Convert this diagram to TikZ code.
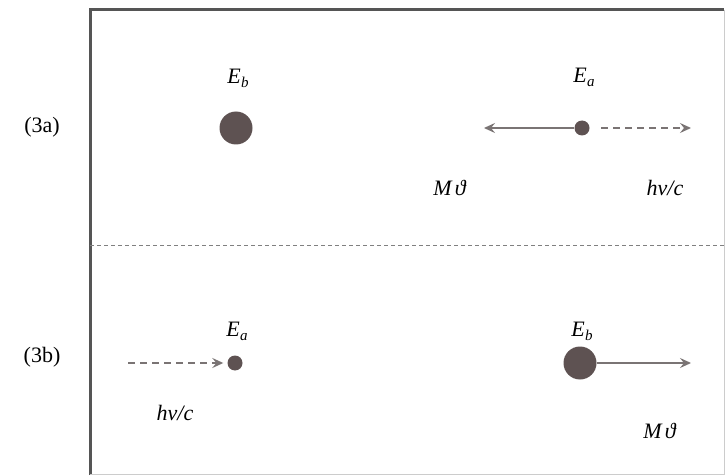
\documentclass[tikz,border=0pt]{standalone}
\usepackage{fontspec}
\setmainfont{Liberation Serif}
\usetikzlibrary{arrows.meta}
\definecolor{dotc}{HTML}{5E5252}
\definecolor{arrc}{HTML}{7A7474}
\definecolor{framec}{HTML}{555555}
\newcommand{\lvl}[2]{\textit{#1}\kern0.5pt\raisebox{-4pt}{\fontsize{15}{15}\selectfont\textit{#2}}}
\begin{document}
\begin{tikzpicture}[x=1pt,y=-1pt,
  bigdot/.style={circle,fill=dotc,inner sep=0pt,minimum size=33pt},
  smalldot/.style={circle,fill=dotc,inner sep=0pt,minimum size=15pt},
  lbl/.style={font=\fontsize{22}{24}\selectfont,inner sep=0pt},
  mom/.style={draw=arrc,line width=2.2pt,-{Stealth[length=11pt,width=10pt,inset=4pt]}},
  phot/.style={draw=arrc,line width=2.2pt,dash pattern=on 7pt off 5pt,-{Stealth[length=11pt,width=10pt,inset=4pt]}}]
\useasboundingbox (0,0) rectangle (726,476);
% frame
\draw[framec,line width=3pt] (90,475) -- (90,10) -- (724,10);
\draw[gray!40,line width=1pt] (724,10) -- (724,474) -- (90,474);
\draw[gray,line width=0.8pt,dash pattern=on 4pt off 3pt] (90,245) -- (726,245);
% row labels
\node[lbl] (la) at (42,127) {(3a)};
\node[lbl] (lb) at (42,357) {(3b)};
% (3a)
\node[bigdot] (b1) at (236,128) {};
\node[lbl] (b1l) at (238,78) {\lvl{E}{b}};
\node[smalldot] (a1) at (582,128) {};
\node[lbl] (a1l) at (584,77) {\lvl{E}{a}};
\coordinate (a1m) at (484,128);
\coordinate (a1p0) at (601,128);
\coordinate (a1p) at (691,128);
\draw[mom] (a1.west) -- (a1m);
\draw[phot] (a1p0) -- (a1p);
\node[lbl] (m1) at (450,188) {\textit{M\kern3pt ϑ}};
\node[lbl] (h1) at (665,188) {\textit{hν/c}};
% (3b)
\node[smalldot] (a2) at (235,363) {};
\node[lbl] (a2l) at (237,331) {\lvl{E}{a}};
\coordinate (a2s) at (128,363);
\draw[phot] (a2s) -- ([xshift=-4pt]a2.west);
\node[bigdot] (b2) at (580,363) {};
\node[lbl] (b2l) at (582,331) {\lvl{E}{b}};
\coordinate (b2m) at (691,363);
\draw[mom] (b2.east) -- (b2m);
\node[lbl] (h2) at (175,413) {\textit{hν/c}};
\node[lbl] (m2) at (660,431) {\textit{M\kern3pt ϑ}};
\end{tikzpicture}
\end{document}
